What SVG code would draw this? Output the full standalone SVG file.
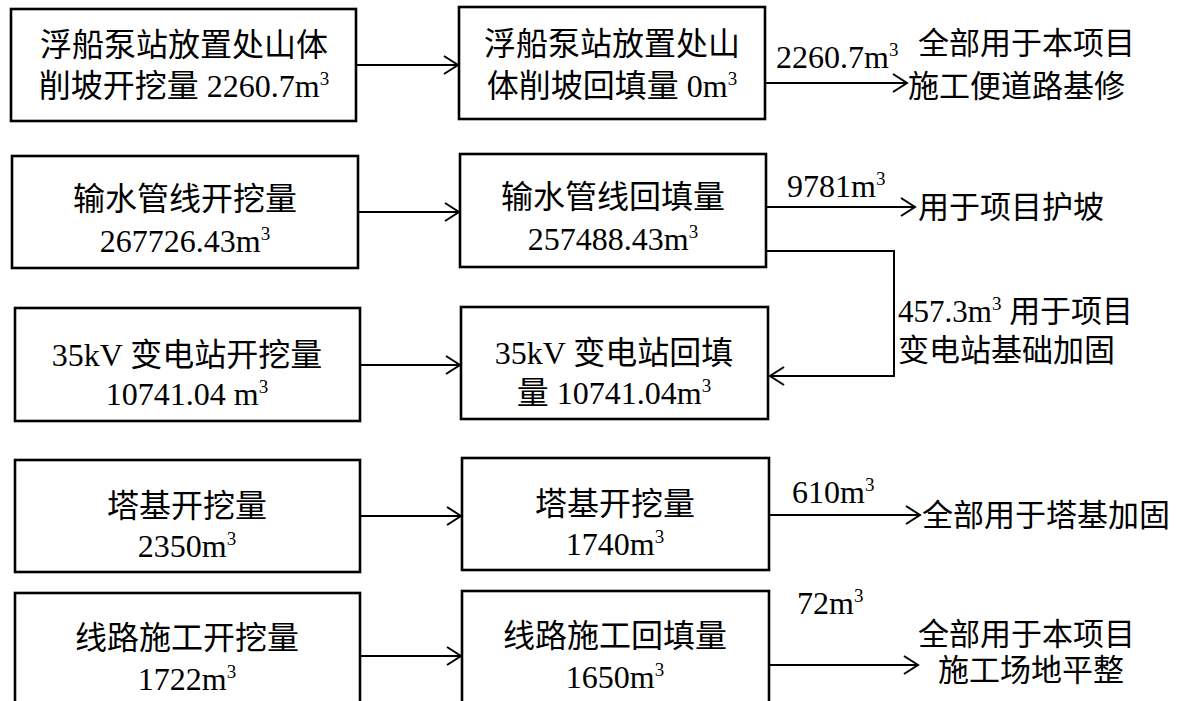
<svg xmlns="http://www.w3.org/2000/svg" width="1182" height="701" viewBox="0 0 1182 701">
<defs>
<style>
.box{fill:#fff;stroke:#000;stroke-width:2.6}
.ln{fill:none;stroke:#000;stroke-width:2}
text{font-family:'Liberation Serif','Noto Sans CJK SC',serif;fill:#000}
.t{font-size:32px;text-anchor:middle}
.r{font-size:31px}
.l{font-size:32px}
.sup{font-size:19px}
</style>
<marker id="arr" viewBox="-16 -12 20 24" markerWidth="20" markerHeight="24" refX="0" refY="0" orient="auto" markerUnits="userSpaceOnUse">
<path d="M-14,-9 L0,0 L-14,9" fill="none" stroke="#000" stroke-width="2"/>
</marker>
</defs>
<rect width="1182" height="701" fill="#fff"/>

<g id="connectors">
<line class="ln" x1="356" y1="65" x2="458" y2="65" marker-end="url(#arr)"/>
<line class="ln" x1="765" y1="83" x2="907" y2="83" marker-end="url(#arr)"/>
<line class="ln" x1="358" y1="212" x2="459" y2="212" marker-end="url(#arr)"/>
<line class="ln" x1="766" y1="207" x2="915" y2="207" marker-end="url(#arr)"/>
<polyline class="ln" points="766,251 894,251 894,376 770,376" marker-end="url(#arr)"/>
<line class="ln" x1="360" y1="365" x2="460" y2="365" marker-end="url(#arr)"/>
<line class="ln" x1="360" y1="516" x2="461" y2="516" marker-end="url(#arr)"/>
<line class="ln" x1="769" y1="515" x2="920" y2="515" marker-end="url(#arr)"/>
<line class="ln" x1="360" y1="656" x2="461" y2="656" marker-end="url(#arr)"/>
<line class="ln" x1="769" y1="665" x2="918" y2="665" marker-end="url(#arr)"/>
</g>

<g id="A1"><rect class="box" x="11" y="9" width="345" height="112"/>
<text class="t" x="184" y="56">浮船泵站放置处山体</text>
<text class="t" x="184" y="97">削坡开挖量 2260.7m<tspan class="sup" dy="-12">3</tspan></text></g>
<g id="B1"><rect class="box" x="459" y="7" width="306" height="112"/>
<text class="t" x="612" y="55">浮船泵站放置处山</text>
<text class="t" x="612" y="97">体削坡回填量 0m<tspan class="sup" dy="-12">3</tspan></text></g>
<g id="O1"><text class="l" x="776" y="68">2260.7m<tspan class="sup" dy="-12">3</tspan></text>
<text class="r" x="918" y="54">全部用于本项目</text>
<text class="r" x="908" y="97">施工便道路基修</text></g>

<g id="A2"><rect class="box" x="12" y="156" width="346" height="112"/>
<text class="t" x="185" y="210">输水管线开挖量</text>
<text class="t" x="185" y="252">267726.43m<tspan class="sup" dy="-12">3</tspan></text></g>
<g id="B2"><rect class="box" x="460" y="154" width="306" height="113"/>
<text class="t" x="613" y="208">输水管线回填量</text>
<text class="t" x="613" y="250">257488.43m<tspan class="sup" dy="-12">3</tspan></text></g>
<g id="O2"><text class="l" x="787" y="197">9781m<tspan class="sup" dy="-12">3</tspan></text>
<text class="r" x="918" y="218">用于项目护坡</text></g>
<g id="O2b"><text class="r" x="898" y="322">457.3m<tspan class="sup" dy="-12">3</tspan><tspan dy="12"> 用于项目</tspan></text>
<text class="r" x="898" y="361">变电站基础加固</text></g>

<g id="A3"><rect class="box" x="15" y="308" width="345" height="113"/>
<text class="t" x="187" y="366">35kV 变电站开挖量</text>
<text class="t" x="187" y="405">10741.04 m<tspan class="sup" dy="-12">3</tspan></text></g>
<g id="B3"><rect class="box" x="461" y="307" width="307" height="112"/>
<text class="t" x="614" y="364">35kV 变电站回填</text>
<text class="t" x="614" y="404">量 10741.04m<tspan class="sup" dy="-12">3</tspan></text></g>

<g id="A4"><rect class="box" x="15" y="460" width="345" height="112"/>
<text class="t" x="187" y="517">塔基开挖量</text>
<text class="t" x="187" y="557">2350m<tspan class="sup" dy="-12">3</tspan></text></g>
<g id="B4"><rect class="box" x="462" y="458" width="307" height="112"/>
<text class="t" x="615" y="515">塔基开挖量</text>
<text class="t" x="615" y="555">1740m<tspan class="sup" dy="-12">3</tspan></text></g>
<g id="O4"><text class="l" x="792" y="503">610m<tspan class="sup" dy="-12">3</tspan></text>
<text class="r" x="922" y="526">全部用于塔基加固</text></g>

<g id="A5"><rect class="box" x="15" y="593" width="345" height="130"/>
<text class="t" x="187" y="649">线路施工开挖量</text>
<text class="t" x="187" y="690">1722m<tspan class="sup" dy="-12">3</tspan></text></g>
<g id="B5"><rect class="box" x="462" y="591" width="307" height="130"/>
<text class="t" x="615" y="647">线路施工回填量</text>
<text class="t" x="615" y="688">1650m<tspan class="sup" dy="-12">3</tspan></text></g>
<g id="O5"><text class="l" x="797" y="614">72m<tspan class="sup" dy="-12">3</tspan></text>
<text class="r" x="918" y="645">全部用于本项目</text>
<text class="r" x="938" y="681">施工场地平整</text></g>
</svg>
